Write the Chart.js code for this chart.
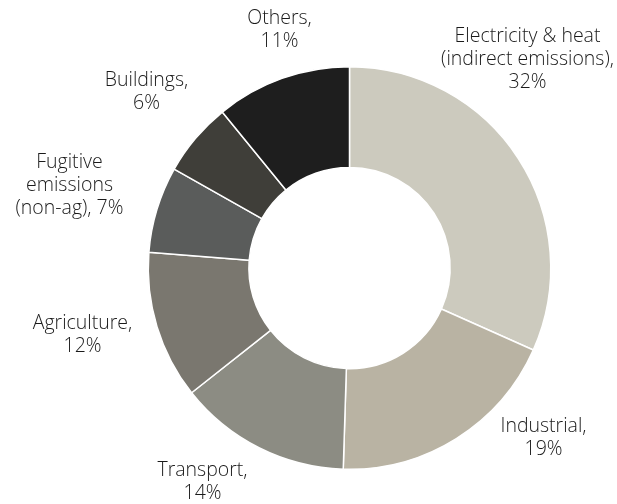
<!DOCTYPE html>
<html>
<head>
<meta charset="utf-8">
<script src="https://cdn.jsdelivr.net/npm/chart.js@4/dist/chart.umd.min.js"></script>
<style>
  html, body { margin: 0; padding: 0; background: #fff; }
  #wrap { width: 617px; height: 504px; position: relative; }
</style>
</head>
<body>
<div id="wrap"><canvas id="chart"></canvas></div>
<script>
/* Emissions by sector — doughnut with hand-placed multi-line labels. */
const sectors = ["Electricity & heat (indirect emissions)", "Industrial", "Transport", "Agriculture",
                 "Fugitive emissions (non-ag)", "Buildings", "Others"];
const shares  = [32, 19, 14, 12, 7, 6, 11];
const labelLines = [
  ["Electricity & heat", "(indirect emissions),", "32%"],
  ["Industrial,", "19%"],
  ["Transport,", "14%"],
  ["Agriculture,", "12%"],
  ["Fugitive", "emissions", "(non-ag), 7%"],
  ["Buildings,", "6%"],
  ["Others,", "11%"]
];
const colors = ["#cccabe", "#b9b3a3", "#8c8c83", "#7a776f", "#5a5c5b", "#3f3e39", "#1e1e1e"];

// label block centres, offset from the doughnut centre (layout only)
const labelOffset = [[178, -209], [194, 170], [-147, 214], [-267, 67], [-280, -83], [-203, -176], [-70, -238]];

const labelPlugin = {
  id: "outerLabels",
  afterDraw(chart) {
    const ctx = chart.ctx;
    const arc = chart.getDatasetMeta(0).data[0];
    const cx = arc.x, cy = arc.y;
    ctx.save();
    ctx.font = "300 19.5px 'Open Sans'";
    ctx.fillStyle = "#1a1a1a";
    ctx.textAlign = "center";
    ctx.textBaseline = "middle";
    const lh = 23;
    labelLines.forEach((lines, i) => {
      const [ox, oy] = labelOffset[i];
      const y0 = cy + oy - (lines.length - 1) * lh / 2;
      lines.forEach((t, j) => ctx.fillText(t, cx + ox, y0 + j * lh));
    });
    ctx.restore();
  }
};

new Chart(document.getElementById("chart"), {
  type: "doughnut",
  data: {
    labels: sectors,
    datasets: [{
      data: shares,
      backgroundColor: colors,
      borderColor: "#ffffff",
      borderWidth: 1.5
    }]
  },
  options: {
    responsive: true,
    maintainAspectRatio: false,
    animation: false,
    cutout: "50%",
    layout: { padding: { left: 147, right: 65, top: 66, bottom: 34 } },
    plugins: { legend: { display: false }, tooltip: { enabled: false } }
  },
  plugins: [labelPlugin]
});
</script>
</body>
</html>
